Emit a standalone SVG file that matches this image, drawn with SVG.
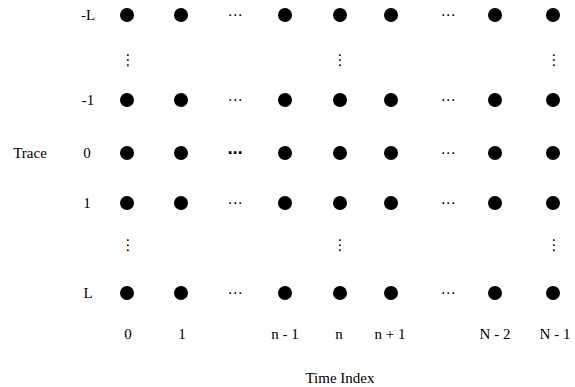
<svg xmlns="http://www.w3.org/2000/svg" width="575" height="387" viewBox="0 0 575 387">
<style>
.t{font-family:"Liberation Serif","Times New Roman",serif;font-size:15px;fill:#000;text-anchor:middle}
.e{font-family:"DejaVu Sans",sans-serif;font-size:15px;fill:#000;text-anchor:middle}
.d{fill:#000}
</style>
<rect width="575" height="387" fill="#fff"/>
<defs><circle id="dot" r="7" class="d"/></defs>
<g id="labels">
<text class="t" x="88" y="20">-L</text>
<text class="t" x="88" y="105">-1</text>
<text class="t" x="87" y="158">0</text>
<text class="t" x="87" y="208">1</text>
<text class="t" x="88" y="298">L</text>
<text class="t" x="30" y="158">Trace</text>
<text class="t" x="128" y="339">0</text>
<text class="t" x="182" y="339">1</text>
<text class="t" x="285" y="339">n - 1</text>
<text class="t" x="339" y="339">n</text>
<text class="t" x="390" y="339">n + 1</text>
<text class="t" x="495" y="339">N - 2</text>
<text class="t" x="555" y="339">N - 1</text>
<text class="t" x="340" y="383">Time Index</text>
</g>
<g id="ellipses">
<text class="e" x="235" y="20">⋯</text>
<text class="e" x="448" y="20">⋯</text>
<text class="e" x="235" y="105">⋯</text>
<text class="e" x="448" y="105">⋯</text>
<text class="e" x="235" y="158" font-weight="bold">⋯</text>
<text class="e" x="448" y="158">⋯</text>
<text class="e" x="235" y="208">⋯</text>
<text class="e" x="448" y="208">⋯</text>
<text class="e" x="235" y="298">⋯</text>
<text class="e" x="448" y="298">⋯</text>
<text class="e" x="128" y="65">⋮</text>
<text class="e" x="340" y="65">⋮</text>
<text class="e" x="554" y="65">⋮</text>
<text class="e" x="128" y="250">⋮</text>
<text class="e" x="340" y="250">⋮</text>
<text class="e" x="554" y="250">⋮</text>
</g>
<g id="row-mL">
<use href="#dot" x="127" y="15"/><use href="#dot" x="181" y="15"/><use href="#dot" x="285" y="15"/><use href="#dot" x="340" y="15"/><use href="#dot" x="391" y="15"/><use href="#dot" x="495" y="15"/><use href="#dot" x="553" y="15"/>
</g>
<g id="row-m1">
<use href="#dot" x="127" y="100"/><use href="#dot" x="181" y="100"/><use href="#dot" x="285" y="100"/><use href="#dot" x="340" y="100"/><use href="#dot" x="391" y="100"/><use href="#dot" x="495" y="100"/><use href="#dot" x="553" y="100"/>
</g>
<g id="row-0">
<use href="#dot" x="127" y="153"/><use href="#dot" x="181" y="153"/><use href="#dot" x="285" y="153"/><use href="#dot" x="340" y="153"/><use href="#dot" x="391" y="153"/><use href="#dot" x="495" y="153"/><use href="#dot" x="553" y="153"/>
</g>
<g id="row-1">
<use href="#dot" x="127" y="203"/><use href="#dot" x="181" y="203"/><use href="#dot" x="285" y="203"/><use href="#dot" x="340" y="203"/><use href="#dot" x="391" y="203"/><use href="#dot" x="495" y="203"/><use href="#dot" x="553" y="203"/>
</g>
<g id="row-L">
<use href="#dot" x="127" y="293"/><use href="#dot" x="181" y="293"/><use href="#dot" x="285" y="293"/><use href="#dot" x="340" y="293"/><use href="#dot" x="391" y="293"/><use href="#dot" x="495" y="293"/><use href="#dot" x="553" y="293"/>
</g>
</svg>
